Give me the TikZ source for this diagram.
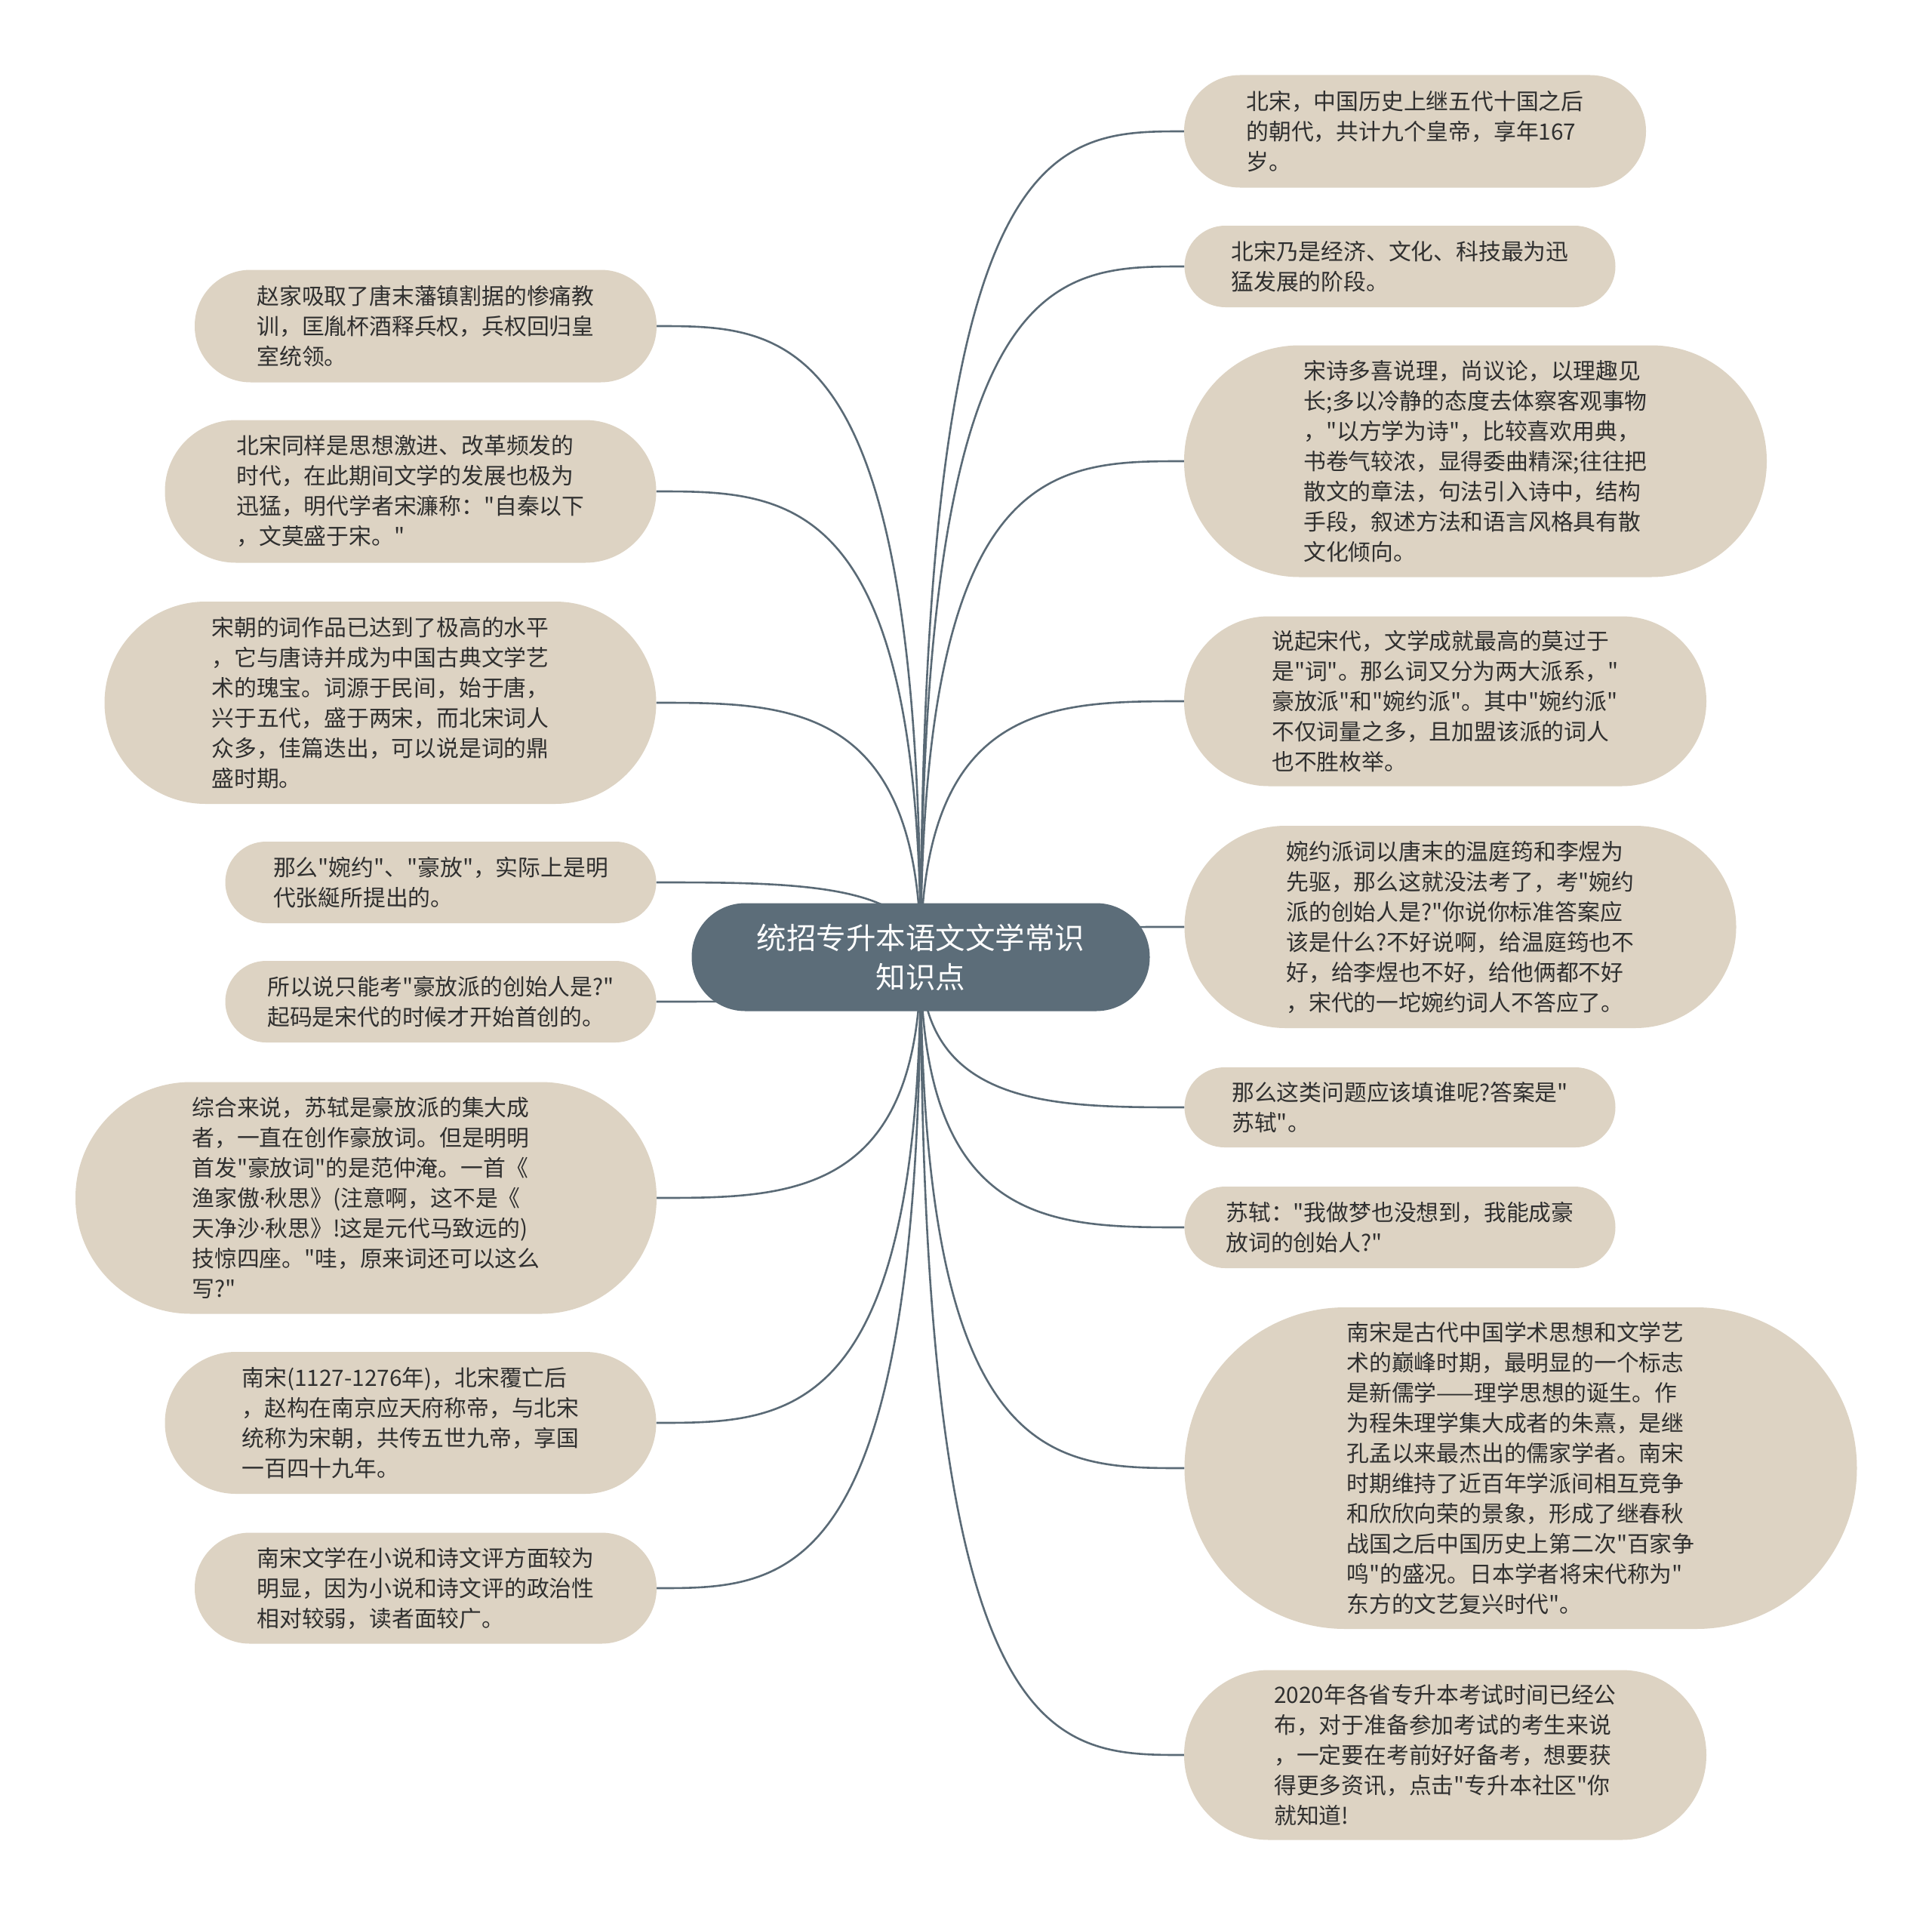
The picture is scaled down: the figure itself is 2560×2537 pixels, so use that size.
\documentclass[tikz,border=0pt]{standalone}
\usepackage{fontspec}
\setmainfont{Noto Sans CJK SC}[Ligatures=TeXOff]
\newfontfamily\mdotfont{Noto Sans}
\newcommand\mdot{{\mdotfont ·}}
\usetikzlibrary{calc,backgrounds}
\definecolor{leaffill}{HTML}{DDD3C3}
\definecolor{centerfill}{HTML}{5C6D79}
\definecolor{linkcol}{HTML}{5A6A76}
\definecolor{txtcol}{HTML}{2F2F2F}
\tikzset{
  leaf/.style={fill=leaffill, draw=none, text=txtcol, align=left, inner sep=0pt,
    font={\fontsize{29.8}{40}\selectfont}},
  hub/.style={fill=centerfill, draw=none, text=white, align=center, inner sep=0pt,
    font={\fontsize{39.5}{52}\selectfont}},
  conn/.style={draw=linkcol, line width=2.6pt}
}
\newcommand\leafnode[7]{\node[leaf, minimum width=#4pt, minimum height=#5pt, rounded corners=#6pt] (#1) at (#2,#3) {#7};}
\newcommand\linkL[1]{\draw[conn] (c.center) .. controls (c.center |- #1.east) and ($(c.center |- #1.east)!0.5!(#1.east)$) .. (#1.east);}
\newcommand\linkR[1]{\draw[conn] (c.center) .. controls (c.center |- #1.west) and ($(c.center |- #1.west)!0.5!(#1.west)$) .. (#1.west);}
\begin{document}
\begin{tikzpicture}[x=1pt,y=-1pt]
\useasboundingbox (0,0) rectangle (2560,2537);

\node[hub, minimum width=607pt, minimum height=143pt, rounded corners=71pt] (c) at (1220,1268) {统招专升本语文文学常识\\知识点};

% left side
\leafnode{l1}{564}{432}{612}{149}{74}{赵家吸取了唐末藩镇割据的惨痛教\\训，匡胤杯酒释兵权，兵权回归皇\\室统领。}
\leafnode{l2}{544}{651}{651}{189}{94}{北宋同样是思想激进、改革频发的\\时代，在此期间文学的发展也极为\\迅猛，明代学者宋濂称："自秦以下\\，文莫盛于宋。"}
\leafnode{l3}{504}{931}{731}{268}{134}{宋朝的词作品已达到了极高的水平\\，它与唐诗并成为中国古典文学艺\\术的瑰宝。词源于民间，始于唐，\\兴于五代，盛于两宋，而北宋词人\\众多，佳篇迭出，可以说是词的鼎\\盛时期。}
\leafnode{l4}{584}{1169}{571}{108}{54}{那么"婉约"、"豪放"，实际上是明\\代张綖所提出的。}
\leafnode{l5}{584}{1327}{571}{108}{54}{所以说只能考"豪放派的创始人是?"\\起码是宋代的时候才开始首创的。}
\leafnode{l6}{485}{1587}{770}{307}{153}{综合来说，苏轼是豪放派的集大成\\者，一直在创作豪放词。但是明明\\首发"豪放词"的是范仲淹。一首《\\渔家傲\mdot 秋思》(注意啊，这不是《\\天净沙\mdot 秋思》!这是元代马致远的)\\技惊四座。"哇，原来词还可以这么\\写?"}
\leafnode{l7}{544}{1885}{651}{188}{94}{南宋(1127-1276年)，北宋覆亡后\\，赵构在南京应天府称帝，与北宋\\统称为宋朝，共传五世九帝，享国\\一百四十九年。}
\leafnode{l8}{564}{2104}{612}{147}{73}{南宋文学在小说和诗文评方面较为\\明显，因为小说和诗文评的政治性\\相对较弱，读者面较广。}

% right side
\leafnode{r1}{1875}{174}{612}{149}{74}{北宋，中国历史上继五代十国之后\\的朝代，共计九个皇帝，享年167\\岁。}
\leafnode{r2}{1855}{353}{571}{108}{54}{北宋乃是经济、文化、科技最为迅\\猛发展的阶段。}
\leafnode{r3}{1955}{611}{772}{307}{153}{宋诗多喜说理，尚议论，以理趣见\\长;多以冷静的态度去体察客观事物\\，"以方学为诗"，比较喜欢用典，\\书卷气较浓，显得委曲精深;往往把\\散文的章法，句法引入诗中，结构\\手段，叙述方法和语言风格具有散\\文化倾向。}
\leafnode{r4}{1915}{929}{692}{225}{112}{说起宋代，文学成就最高的莫过于\\是"词"。那么词又分为两大派系，"\\豪放派"和"婉约派"。其中"婉约派"\\不仅词量之多，且加盟该派的词人\\也不胜枚举。}
\leafnode{r5}{1935}{1228}{731}{268}{134}{婉约派词以唐末的温庭筠和李煜为\\先驱，那么这就没法考了，考"婉约\\派的创始人是?"你说你标准答案应\\该是什么?不好说啊，给温庭筠也不\\好，给李煜也不好，给他俩都不好\\，宋代的一坨婉约词人不答应了。}
\leafnode{r6}{1855}{1467}{571}{106}{53}{那么这类问题应该填谁呢?答案是"\\苏轼"。}
\leafnode{r7}{1855}{1626}{571}{108}{54}{苏轼："我做梦也没想到，我能成豪\\放词的创始人?"}
\leafnode{r8}{2015}{1945}{891}{426}{213}{南宋是古代中国学术思想和文学艺\\术的巅峰时期，最明显的一个标志\\是新儒学——理学思想的诞生。作\\为程朱理学集大成者的朱熹，是继\\孔孟以来最杰出的儒家学者。南宋\\时期维持了近百年学派间相互竞争\\和欣欣向荣的景象，形成了继春秋\\战国之后中国历史上第二次"百家争\\鸣"的盛况。日本学者将宋代称为"\\东方的文艺复兴时代"。}
\leafnode{r9}{1915}{2325}{692}{225}{112}{2020年各省专升本考试时间已经公\\布，对于准备参加考试的考生来说\\，一定要在考前好好备考，想要获\\得更多资讯，点击"专升本社区"你\\就知道!}

\begin{pgfonlayer}{background}
\fill[white] (0,0) rectangle (2560,2537);
\linkL{l1}\linkL{l2}\linkL{l3}\linkL{l4}\linkL{l5}\linkL{l6}\linkL{l7}\linkL{l8}
\linkR{r1}\linkR{r2}\linkR{r3}\linkR{r4}\linkR{r5}\linkR{r6}\linkR{r7}\linkR{r8}\linkR{r9}
\end{pgfonlayer}
\end{tikzpicture}
\end{document}
